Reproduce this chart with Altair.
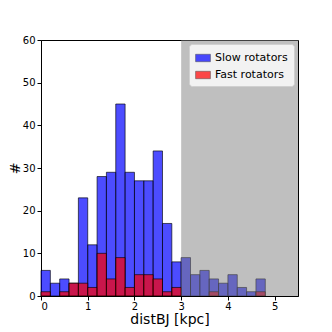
import altair as alt
import pandas as pd

bin_width = 0.2
bin_starts = [round(i * bin_width, 1) for i in range(24)]
slow_counts = [6, 3, 4, 3, 23, 12, 28, 29, 45, 29, 27, 27, 34, 17, 8,
               9, 5, 6, 4, 3, 5, 2, 1, 4]
fast_counts = [1, 0, 1, 3, 3, 2, 10, 4, 9, 2, 5, 5, 4, 1, 2,
               0, 0, 0, 1, 0, 0, 0, 0, 1]
series = ["Slow rotators", "Fast rotators"]
shade_start, shade_end = 3.0, 5.5
x_domain = [0, 5.5]
y_domain = [0, 60]

rows = []
for name, counts in zip(series, [slow_counts, fast_counts]):
    for s, c in zip(bin_starts, counts):
        if c > 0:
            rows.append({"series": name, "start": s, "end": round(s + bin_width, 1), "count": c})
df = pd.DataFrame(rows)
shade = pd.DataFrame({"x": [shade_start], "x2": [shade_end], "y": [y_domain[0]], "y2": [y_domain[1]]})

font = "DejaVu Sans"

bars = alt.Chart(df).mark_rect(
    fillOpacity=0.7, stroke="black", strokeWidth=0.8, strokeOpacity=0.8
).encode(
    x=alt.X("start:Q", scale=alt.Scale(domain=x_domain, nice=False, zero=False),
            axis=alt.Axis(values=[0, 1, 2, 3, 4, 5], title="distBJ [kpc]", format="d")),
    x2="end:Q",
    y=alt.Y("count:Q", scale=alt.Scale(domain=y_domain, nice=False),
            axis=alt.Axis(values=list(range(0, 61, 10)), title="#", titleFontSize=14)),
    y2=alt.datum(0),
    color=alt.Color("series:N", scale=alt.Scale(domain=series, range=["#0000ff", "#ff0000"]),
                    legend=alt.Legend(title=None, orient="top-right", symbolType="M-1,-0.5H1V0.5H-1Z",
                                      symbolSize=220, symbolOpacity=0.7, symbolStrokeColor="black",
                                      symbolStrokeWidth=0.5,
                                      fillColor="#f2f2f2", strokeColor="#d0d0d0", padding=6,
                                      cornerRadius=3, labelFontSize=11, labelFont=font,
                                      offset=4, rowPadding=4)),
    order=alt.Order("series:N", sort="descending"),
)

gray = alt.Chart(shade).mark_rect(color="#808080", opacity=0.5).encode(
    x="x:Q", x2="x2:Q", y="y:Q", y2="y2:Q"
)

chart = alt.layer(bars, gray).properties(
    width=257, height=256,
    autosize=alt.AutoSizeParams(type="none"),
    padding={"left": 33, "top": 32, "right": 26, "bottom": 34},
).configure_view(stroke="black", strokeWidth=1).configure_axis(
    grid=False, domainColor="black", tickColor="black", tickSize=4,
    labelFont=font, labelFontSize=10, labelColor="black",
    titleFont=font, titleFontSize=14, titleFontWeight="normal", titleColor="black",
).configure_axisX(titlePadding=1, labelPadding=1).configure_axisY(titlePadding=0, titleAngle=270)

chart.save("out.html", embed_options={"renderer": "svg", "actions": False})
